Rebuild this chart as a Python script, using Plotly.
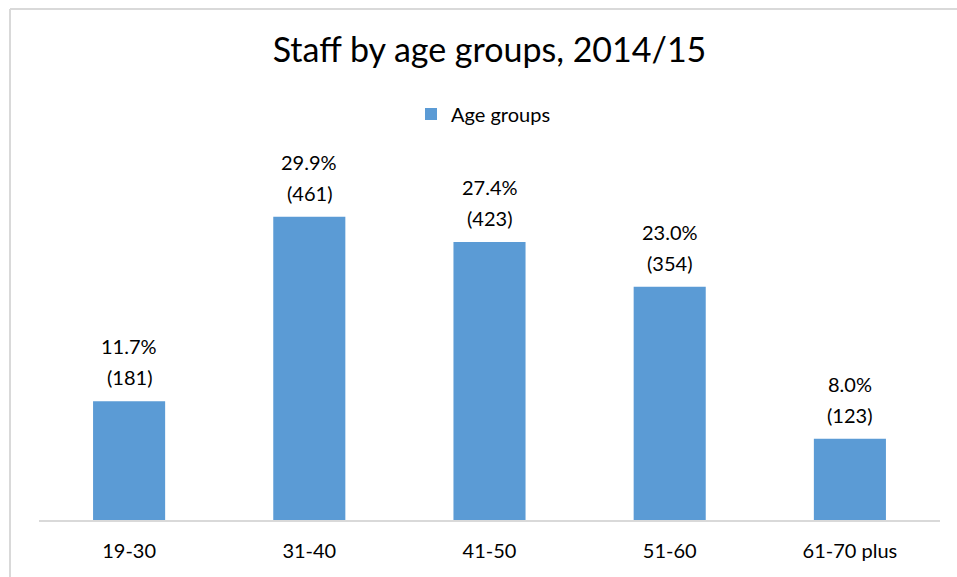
import plotly.graph_objects as go

categories = ["19-30", "31-40", "41-50", "51-60", "61-70 plus"]
percent = [11.7, 29.9, 27.4, 23.0, 8.0]
counts = [181, 461, 423, 354, 123]
series_name = "Age groups"
title = "Staff by age groups, 2014/15"

FONT = "Lato, 'Open Sans', sans-serif"
BLUE = "#5b9bd5"

fig = go.Figure()
fig.add_trace(go.Bar(
    x=categories, y=percent, name=series_name,
    marker=dict(color=BLUE, line=dict(width=0)),
    width=0.4, showlegend=True,
))

for c, p, n in zip(categories, percent, counts):
    fig.add_annotation(x=c, y=p, text=f"{p:.1f}%", showarrow=False,
                       yanchor="middle", yshift=55,
                       font=dict(family=FONT, size=20, color="#000000"))
    fig.add_annotation(x=c, y=p, text=f"({n})", showarrow=False,
                       yanchor="middle", yshift=24,
                       font=dict(family=FONT, size=20, color="#000000"))

L, R, T, B = 39, 957 - 940, 165, 577 - 520
H = 520 - 165
W = 940 - 39

fig.update_layout(
    width=957, height=577,
    margin=dict(l=L, r=R, t=T, b=B, pad=0),
    paper_bgcolor="white", plot_bgcolor="white",
    font=dict(family=FONT, color="#000000"),
    title=dict(text=title, x=489.5 / 957, xanchor="center", y=1 - 50 / 577, yanchor="middle",
               font=dict(family=FONT, size=34, color="#000000")),
    legend=dict(orientation="h", x=0.5 - 6 / W, xanchor="center", y=(520 - 114) / H, yanchor="middle",
                font=dict(family=FONT, size=20, color="#000000"), bgcolor="rgba(0,0,0,0)"),
    xaxis=dict(showline=True, linecolor="#d9d9d9", linewidth=2, ticks="outside",
               tickcolor="rgba(0,0,0,0)", ticklen=12, showgrid=False, zeroline=False,
               tickfont=dict(family=FONT, size=20, color="#000000")),
    yaxis=dict(range=[0, 35], visible=False, showgrid=False, zeroline=False),
)

x0 = (10 - L) / W
x_end = (957 - L) / W
y1 = (520 - 9) / H
y_bot = -(577 - 520) / H
fig.add_shape(type="line", xref="paper", yref="paper", x0=x0, x1=x0, y0=y_bot, y1=y1,
              line=dict(color="#d9d9d9", width=2), layer="below")
fig.add_shape(type="line", xref="paper", yref="paper", x0=x0, x1=x_end, y0=y1, y1=y1,
              line=dict(color="#d9d9d9", width=2), layer="below")

fig.write_html(
    "out.html", config={"displayModeBar": False},
    post_script=("document.documentElement.style.overflow='hidden';"
                 "document.body.style.margin='0';document.body.style.overflow='hidden';"),
)
